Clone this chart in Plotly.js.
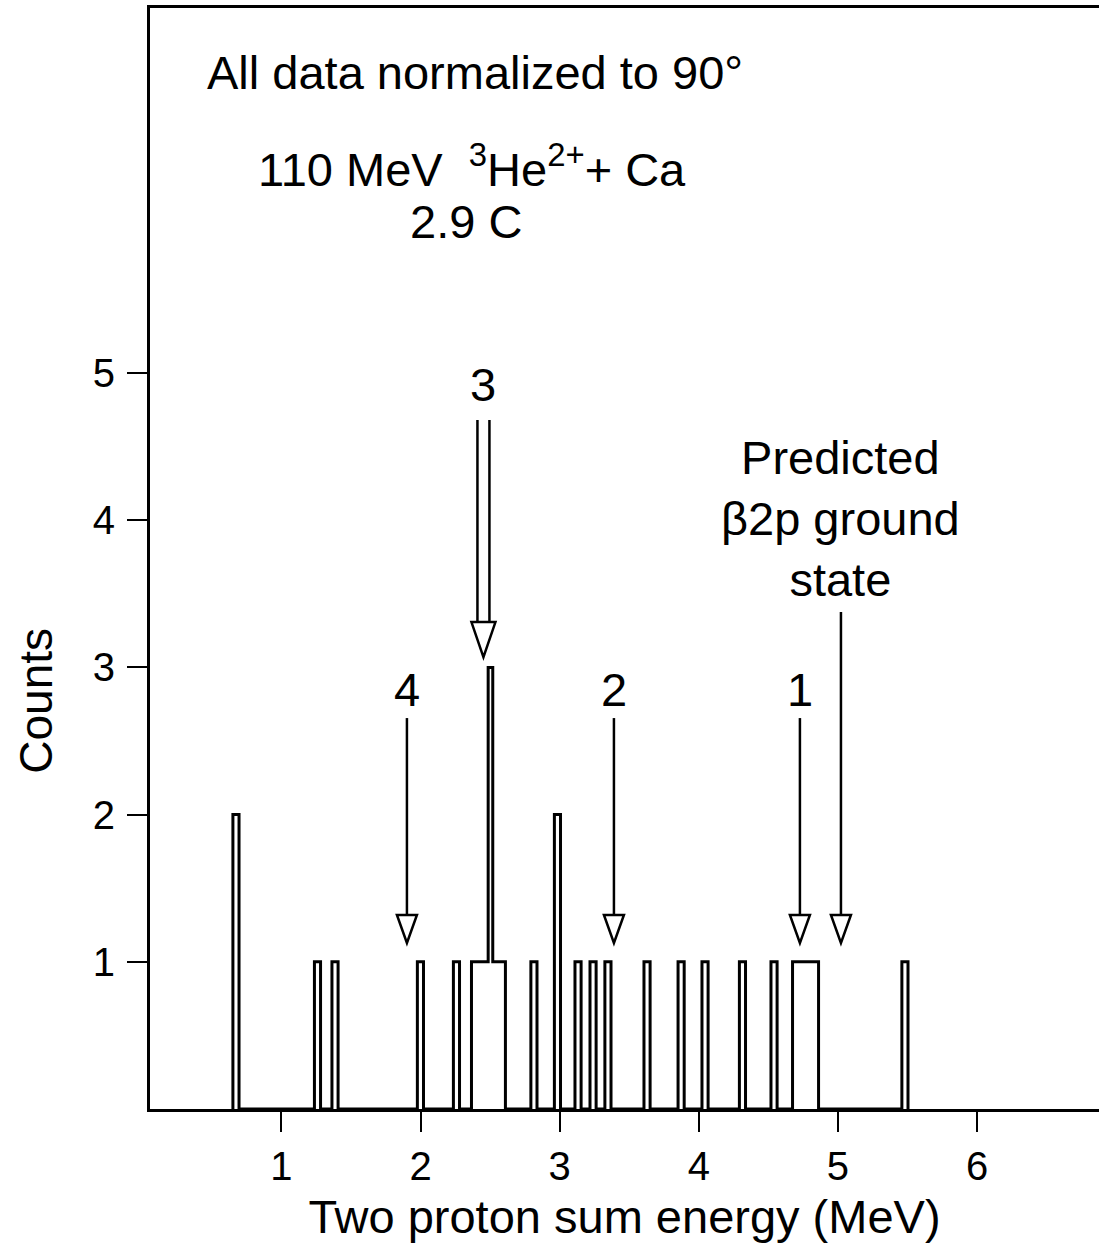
<!DOCTYPE html>
<html>
<head>
<meta charset="utf-8">
<script src="https://cdn.plot.ly/plotly-3.0.1.min.js"></script>
<style>html,body{margin:0;padding:0;background:#fff;}#chart{width:1099px;height:1259px;}</style>
</head>
<body>
<div id="chart"></div>
<script>
// Histogram bins (MeV) and counts
const binLo  = [0.651, 1.237, 1.363, 1.977, 2.236, 2.366, 2.486, 2.519, 2.793, 2.962, 3.110, 3.218, 3.325, 3.606, 3.851, 4.023, 4.292, 4.519, 4.674, 5.460];
const binHi  = [0.695, 1.281, 1.407, 2.021, 2.280, 2.486, 2.519, 2.610, 2.837, 3.006, 3.154, 3.262, 3.369, 3.650, 3.895, 4.067, 4.336, 4.563, 4.861, 5.504];
const counts = [2, 1, 1, 1, 1, 1, 3, 1, 1, 2, 1, 1, 1, 1, 1, 1, 1, 1, 1, 1];

// Marked states (MeV)
const stateLabels = ['4', '2', '1'];
const stateEnergy = [1.902, 3.390, 4.727];
const peakLabel = '3';
const peakEnergy = 2.452;
const predictedEnergy = 5.022;
const predictedText = 'Predicted<br>β2p ground<br>state';

const xTicks = [1, 2, 3, 4, 5, 6];
const yTicks = [1, 2, 3, 4, 5];

// build step outline
const xs = [], ys = [];
for (let i = 0; i < binLo.length; i++) {
  const touchPrev = i > 0 && Math.abs(binLo[i] - binHi[i - 1]) < 1e-9;
  const touchNext = i < binLo.length - 1 && Math.abs(binLo[i + 1] - binHi[i]) < 1e-9;
  if (!touchPrev) { xs.push(binLo[i]); ys.push(0); }
  xs.push(binLo[i]); ys.push(counts[i]);
  xs.push(binHi[i]); ys.push(counts[i]);
  if (!touchNext) { xs.push(binHi[i]); ys.push(0); }
}

const FONT = 'Liberation Sans, Arial, Helvetica, sans-serif';
const traces = [{
  type: 'scatter', mode: 'lines', x: xs, y: ys,
  line: {color: '#000', width: 3, shape: 'linear'},
  hoverinfo: 'skip', showlegend: false
}];

const tipThin = 1.128, topThin = 2.656, topPred = 3.376;
const tipPeak = 3.07, topPeak = 4.68;

const shapes = [];
const headPath = 'M-10,28 L10,28 L0,0 Z';
function thinArrow(e, top) {
  shapes.push({type: 'line', xref: 'x', yref: 'y', x0: e, x1: e, y0: top, y1: tipThin + 0.1,
    line: {color: '#000', width: 2.5}});
  shapes.push({type: 'path', xref: 'x', yref: 'y', xsizemode: 'pixel', ysizemode: 'pixel',
    xanchor: e, yanchor: tipThin, path: headPath, fillcolor: '#fff',
    line: {color: '#000', width: 2.5}});
}
stateEnergy.forEach(e => thinArrow(e, topThin));
thinArrow(predictedEnergy, topPred);
// peak arrow (double shaft)
shapes.push({type: 'path', xref: 'x', yref: 'y', xsizemode: 'pixel', ysizemode: 'pixel',
  xanchor: peakEnergy, yanchor: tipPeak, path: 'M-6,30 V237 M6,237 V30',
  line: {color: '#000', width: 2.5}});
shapes.push({type: 'path', xref: 'x', yref: 'y', xsizemode: 'pixel', ysizemode: 'pixel',
  xanchor: peakEnergy, yanchor: tipPeak, path: 'M-12,35 L12,35 L0,0 Z', fillcolor: '#fff',
  line: {color: '#000', width: 2.5}});

const annFont = {family: FONT, size: 47, color: '#000'};
const annotations = [
  {x: 2.391, y: 7.04, text: 'All data normalized to 90°'},
  {x: 2.370, y: 6.41, text: '110 MeV  <sup>3</sup>He<sup>2+</sup>+ Ca'},
  {x: 2.326, y: 6.03, text: '2.9 C'},
  {x: peakEnergy, y: 4.92, text: peakLabel},
  {x: predictedEnergy, y: 4.01, text: predictedText}
];
stateLabels.forEach((t, i) => annotations.push({x: stateEnergy[i], y: 2.85, text: t}));
annotations.forEach(a => { a.xref = 'x'; a.yref = 'y'; a.showarrow = false; a.font = annFont;
  a.xanchor = 'center'; a.yanchor = 'middle'; });
// y-axis title placed as in the reference (lower than the plot centre)
annotations.push({xref: 'paper', yref: 'paper', x: -0.121, y: 0.371, xanchor: 'center', yanchor: 'middle',
  text: 'Counts', textangle: -90, showarrow: false, font: {family: FONT, size: 46, color: '#000'}});

const layout = {
  width: 1099, height: 1259,
  margin: {l: 150, r: 0, t: 8, b: 150},
  paper_bgcolor: '#fff', plot_bgcolor: '#fff',
  font: {family: FONT, color: '#000'},
  showlegend: false,
  xaxis: {
    range: [0.055, 6.877], tickvals: xTicks, ticktext: xTicks.map(String),
    showline: true, linewidth: 3, linecolor: '#000', mirror: true,
    ticks: 'outside', ticklen: 20, tickwidth: 2, tickcolor: '#000',
    showgrid: false, zeroline: false, ticklabelstandoff: 0,
    tickfont: {family: FONT, size: 40, color: '#000'},
    title: {text: 'Two proton sum energy (MeV)', font: {family: FONT, size: 47, color: '#000'}, standoff: 14}
  },
  yaxis: {
    range: [0, 7.48], tickvals: yTicks, ticktext: yTicks.map(String),
    showline: true, linewidth: 3, linecolor: '#000',
    ticks: 'outside', ticklen: 20, tickwidth: 2, tickcolor: '#000',
    showgrid: false, zeroline: false, ticklabelstandoff: 4,
    tickfont: {family: FONT, size: 40, color: '#000'}
  },
  shapes: shapes,
  annotations: annotations
};

Plotly.newPlot('chart', traces, layout, {staticPlot: true, displayModeBar: false});
</script>
</body>
</html>
